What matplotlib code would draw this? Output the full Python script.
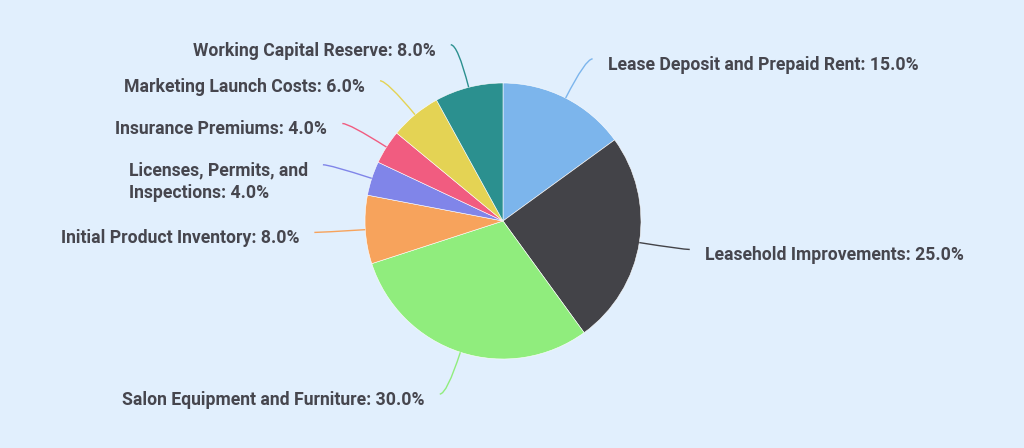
import matplotlib

matplotlib.use("Agg")

import matplotlib.pyplot as plt
import numpy as np
from matplotlib.path import Path
from matplotlib.patches import PathPatch

BACKGROUND = "#e1effd"
TEXT_COLOR = "#46464e"

categories = [
    "Lease Deposit and Prepaid Rent",
    "Leasehold Improvements",
    "Salon Equipment and Furniture",
    "Initial Product Inventory",
    "Licenses, Permits, and\nInspections",
    "Insurance Premiums",
    "Marketing Launch Costs",
    "Working Capital Reserve",
]
shares = [15.0, 25.0, 30.0, 8.0, 4.0, 4.0, 6.0, 8.0]
colors = ["#7cb5ec", "#434348", "#90ed7d", "#f7a35c", "#8085e9", "#f15c80", "#e4d354", "#2b908f"]

# layout in pixels
W, H = 1024, 448
CX, CY = 503, H - 221
R = 138
LEN1, LEN2 = 44, 7
GAP = 15
label_nudge = {4: -11}  # two-line label sits lower

fig = plt.figure(figsize=(W / 100, H / 100), dpi=100)
fig.patch.set_facecolor(BACKGROUND)
ax = fig.add_axes([0, 0, 1, 1])
ax.set_xlim(0, W)
ax.set_ylim(0, H)
ax.set_aspect("equal")
ax.axis("off")

wedges, _ = ax.pie(
    shares,
    colors=colors,
    startangle=90,
    counterclock=False,
    center=(CX, CY),
    radius=R,
    wedgeprops={"edgecolor": "white", "linewidth": 0.4},
)
ax.set_xlim(0, W)
ax.set_ylim(0, H)

for i, (w, name, val) in enumerate(zip(wedges, categories, shares)):
    mid = np.deg2rad((w.theta1 + w.theta2) / 2)
    dx, dy = np.cos(mid), np.sin(mid)
    side = 1 if dx >= 0 else -1
    p0 = (CX + R * dx, CY + R * dy)
    p1 = (CX + (R + LEN1) * dx, CY + (R + LEN1) * dy)
    p2 = (p1[0] + side * LEN2, p1[1])
    path = Path([p0, p1, p2], [Path.MOVETO, Path.CURVE3, Path.CURVE3])
    ax.add_patch(PathPatch(path, fill=False, edgecolor=w.get_facecolor(), linewidth=1.0))
    ax.text(
        p2[0] + side * GAP,
        p2[1] - 6 + label_nudge.get(i, 0),
        f"{name}: {val:.1f}%",
        ha="left" if side > 0 else "right",
        va="center",
        multialignment="left",
        fontsize=12.7,
        fontfamily="Roboto",
        fontweight="semibold",
        color=TEXT_COLOR,
        linespacing=1.3,
    )

fig.savefig("out.png", dpi=100, facecolor=BACKGROUND)
